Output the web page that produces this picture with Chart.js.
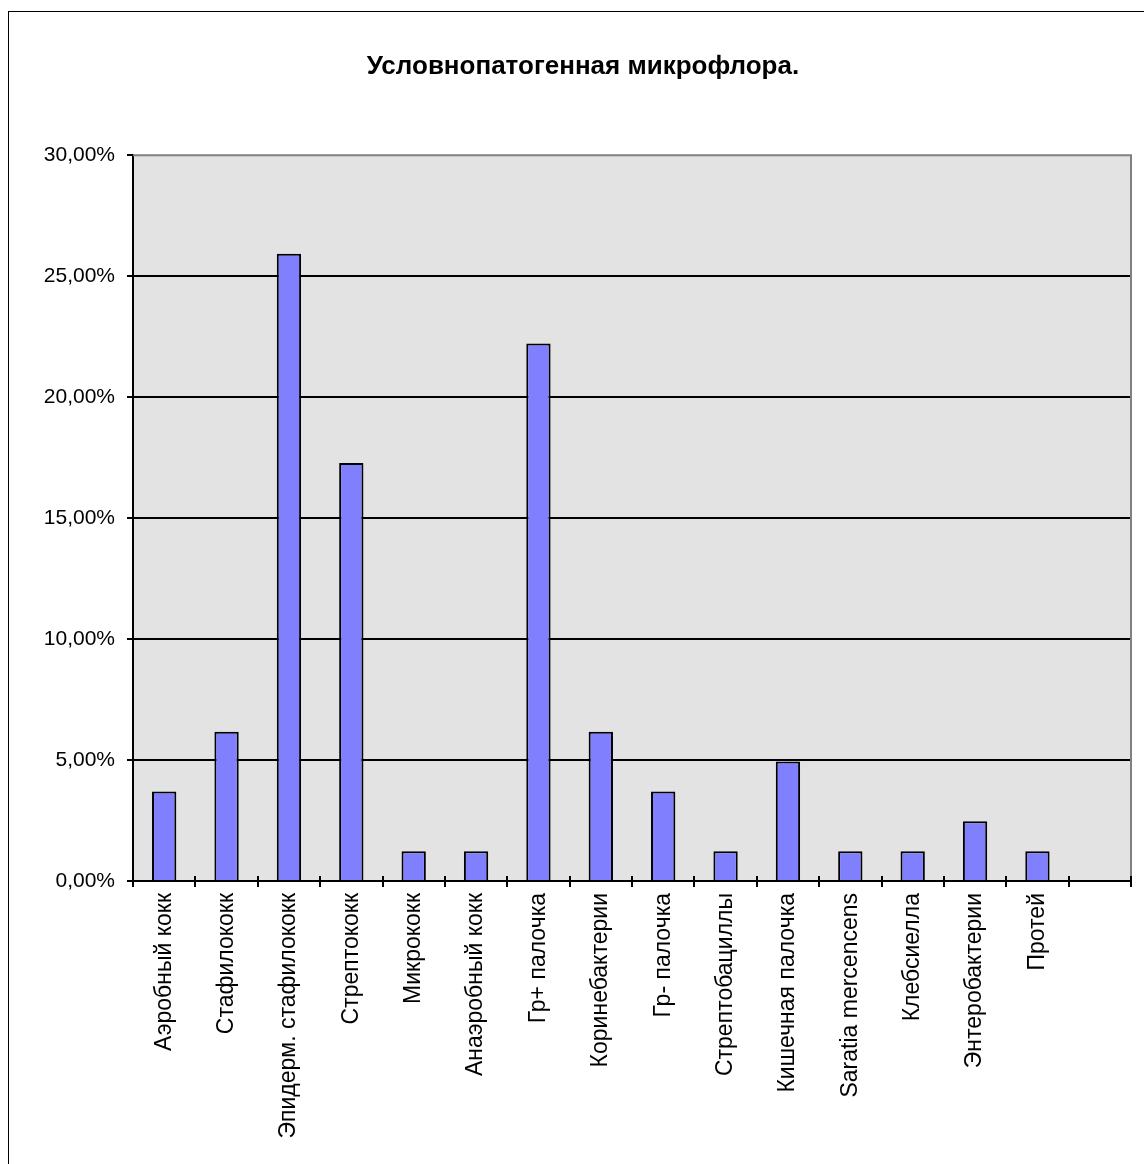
<!DOCTYPE html>
<html>
<head>
<meta charset="utf-8">
<script src="https://cdn.jsdelivr.net/npm/chart.js@4/dist/chart.umd.min.js"></script>
<style>
  html, body { margin: 0; padding: 0; background: #fff; overflow: hidden; }
  #frame { position: absolute; left: 8px; top: 11px; width: 2000px; height: 2000px; border: 1.5px solid #000; }
  #wrap { position: absolute; left: 0; top: 0; width: 1144px; height: 1164px; }
</style>
</head>
<body>
<div id="frame"></div>
<div id="wrap"><canvas id="microflora"></canvas></div>
<script>
const categories = ['Аэробный кокк', 'Стафилококк', 'Эпидерм. стафилококк', 'Стрептококк', 'Микрококк',
    'Анаэробный кокк', 'Гр+ палочка', 'Коринебактерии', 'Гр- палочка', 'Стрептобациллы',
    'Кишечная палочка', 'Saratia mercencens', 'Клебсиелла', 'Энтеробактерии', 'Протей', ''];
const shares = [3.70, 6.17, 25.93, 17.28, 1.23, 1.23, 22.22, 6.17, 3.70, 1.23, 4.94, 1.23, 1.23, 2.47, 1.23, null];
const yTicks = [0, 5, 10, 15, 20, 25, 30];

const fmtPct = v => v.toFixed(2).replace('.', ',') + '%';

// plot area fill, grey frame on top/right and crossing ticks on the category axis
const plotFrame = {
    id: 'plotFrame',
    beforeDraw(chart) {
        const { ctx, chartArea: a } = chart;
        ctx.save();
        ctx.fillStyle = '#e3e3e3';
        ctx.fillRect(a.left, a.top, a.right - a.left, a.bottom - a.top);
        ctx.restore();
    },
    afterDraw(chart) {
        const { ctx, chartArea: a, scales } = chart;
        ctx.save();
        ctx.strokeStyle = '#808080';
        ctx.lineWidth = 2;
        ctx.beginPath();
        ctx.moveTo(a.left, a.top);
        ctx.lineTo(a.right, a.top);
        ctx.lineTo(a.right, a.bottom);
        ctx.stroke();
        const x = scales.x;
        const half = (x.getPixelForValue(1) - x.getPixelForValue(0)) / 2;
        ctx.strokeStyle = '#000';
        ctx.lineWidth = 2;
        ctx.beginPath();
        ctx.moveTo(a.left, a.bottom);
        ctx.lineTo(a.right, a.bottom);
        for (let i = 0; i <= categories.length; i++) {
            const px = Math.round(x.getPixelForValue(0) - half + i * 2 * half);
            ctx.moveTo(px, a.bottom - 5);
            ctx.lineTo(px, a.bottom + 6);
        }
        ctx.stroke();
        ctx.restore();
    }
};

new Chart(document.getElementById('microflora'), {
    type: 'bar',
    data: {
        labels: categories,
        datasets: [{
            data: shares,
            backgroundColor: '#8080ff',
            borderColor: '#000',
            borderWidth: 2,
            categoryPercentage: 1,
            barPercentage: 0.39
        }]
    },
    options: {
        responsive: true,
        maintainAspectRatio: false,
        animation: false,
        layout: { padding: { left: 35, right: 13, top: 11, bottom: 0 } },
        plugins: {
            legend: { display: false },
            tooltip: { enabled: false },
            title: {
                display: true,
                text: 'Условнопатогенная микрофлора.',
                color: '#000',
                font: { family: 'Liberation Sans', size: 26, weight: 'bold' },
                padding: { top: 40, bottom: 73 }
            }
        },
        scales: {
            x: {
                grid: { display: false },
                border: { display: false },
                ticks: {
                    color: '#000',
                    font: { family: 'Liberation Sans', size: 23 },
                    minRotation: 90,
                    maxRotation: 90,
                    autoSkip: false,
                    padding: 4
                },
                afterFit: s => { s.height = 283; }
            },
            y: {
                min: 0,
                max: 30,
                afterBuildTicks: s => { s.ticks = yTicks.map(v => ({ value: v })); },
                grid: {
                    color: ctx => ctx.tick && ctx.tick.value === 30 ? 'rgba(0,0,0,0)' : '#000',
                    lineWidth: 2,
                    tickLength: 6,
                    tickColor: '#000'
                },
                border: { color: '#000', width: 2 },
                ticks: {
                    color: '#000',
                    font: { family: 'Liberation Sans', size: 21 },
                    padding: 12,
                    callback: v => fmtPct(v)
                },
                afterFit: s => { s.width = 98; }
            }
        }
    },
    plugins: [plotFrame]
});
</script>
</body>
</html>
